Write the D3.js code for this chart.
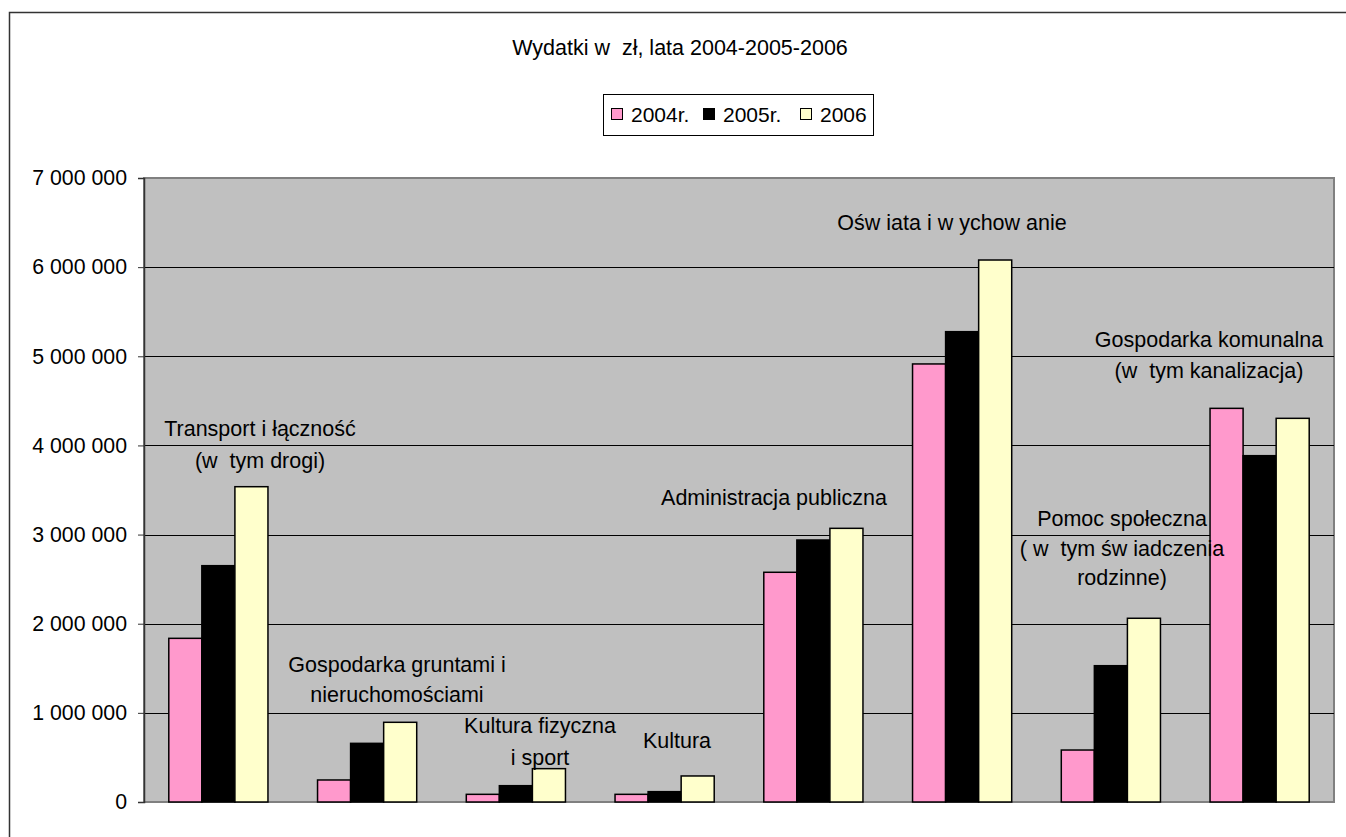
<!DOCTYPE html>
<html lang="pl">
<head>
<meta charset="utf-8">
<title>Wydatki w zł, lata 2004-2005-2006</title>
<script src="https://cdn.jsdelivr.net/npm/d3@7"></script>
<style>
  body { margin: 0; background: #fff; }
  svg { display: block; font-family: "Liberation Sans", Arial, sans-serif; }
  text { white-space: pre; }
</style>
</head>
<body>
<script>
// dane (zł)
var categories = ["Transport", "Grunty", "KulturaFiz", "Kultura", "Administracja", "Oswiata", "Pomoc", "Komunalna"];
var seriesNames = ["2004r.", "2005r.", "2006"];
var values2004 = [1836000, 247000, 86000, 86000, 2577000, 4914000, 583000, 4416000];
var values2005 = [2651000, 658000, 183000, 116000, 2939000, 5276000, 1529000, 3885000];
var values2006 = [3537000, 894000, 374000, 292000, 3070000, 6080000, 2061000, 4304000];
var yTicks = [0, 1000000, 2000000, 3000000, 4000000, 5000000, 6000000, 7000000];
var categoryLabels = [
  ["Transport i łączność", "(w  tym drogi)"],
  ["Gospodarka gruntami i", "nieruchomościami"],
  ["Kultura fizyczna", "i sport"],
  ["Kultura"],
  ["Administracja publiczna"],
  ["Ośw iata i w ychow anie"],
  ["Pomoc społeczna", "( w  tym św iadczenia", "rodzinne)"],
  ["Gospodarka komunalna", "(w  tym kanalizacja)"]
];

// położenie podpisów kategorii (środek x, linia bazowa pierwszego wiersza, odstęp)
var labelLayout = [
  {x: 260, y: 436, dy: 32},
  {x: 397, y: 672, dy: 30},
  {x: 540, y: 733, dy: 32},
  {x: 677, y: 748, dy: 30},
  {x: 774, y: 505, dy: 30},
  {x: 952, y: 230, dy: 30},
  {x: 1122, y: 526, dy: 29.5},
  {x: 1209, y: 347, dy: 31}
];

var colors = ["#FF99CC", "#000000", "#FFFFCC"];

var w = 1346, h = 837;
var plot = {left: 144, right: 1334, top: 178, bottom: 802};

var svg = d3.select("body").append("svg")
  .attr("width", w)
  .attr("height", h);

// ramka całego wykresu
svg.append("rect")
  .attr("x", 9.5).attr("y", 12.5)
  .attr("width", w + 20).attr("height", h + 20)
  .attr("fill", "#fff")
  .attr("stroke", "#333").attr("stroke-width", 1.5);

var x0 = d3.scaleBand()
  .domain(categories)
  .range([plot.left, plot.right])
  .padding(0);

var bw = x0.bandwidth() / 4.5;
var x1 = d3.scaleBand()
  .domain(seriesNames)
  .range([bw * 0.75, bw * 3.75])
  .padding(0);

var y = d3.scaleLinear()
  .domain([0, 7000000])
  .range([plot.bottom, plot.top]);

var pl = d3.formatLocale({decimal: ",", thousands: " ", grouping: [3], currency: ["", " zł"]});
var fmt = pl.format(",d");

// tło obszaru wykresu
svg.append("rect")
  .attr("x", plot.left).attr("y", plot.top)
  .attr("width", plot.right - plot.left)
  .attr("height", plot.bottom - plot.top)
  .attr("fill", "#C0C0C0")
  .attr("stroke", "#808080").attr("stroke-width", 2);

// linie siatki
svg.append("g")
  .selectAll("line")
  .data(yTicks.filter(function(d) { return d > 0 && d < 7000000; }))
  .enter().append("line")
  .attr("x1", plot.left).attr("x2", plot.right)
  .attr("y1", function(d) { return Math.round(y(d)) + 0.5; })
  .attr("y2", function(d) { return Math.round(y(d)) + 0.5; })
  .attr("stroke", "#000").attr("stroke-width", 1);

// oś Y
var yAxis = d3.axisLeft(y)
  .tickValues(yTicks)
  .tickSize(6)
  .tickPadding(11)
  .tickFormat(fmt);

var gy = svg.append("g")
  .attr("transform", "translate(" + plot.left + ",0)")
  .call(yAxis);
gy.select(".domain").attr("stroke", "#333").attr("stroke-width", 1.5);
gy.selectAll(".tick line").attr("stroke", "#333");
gy.selectAll(".tick text")
  .attr("font-size", 21.3)
  .attr("font-family", "'Liberation Sans', Arial, sans-serif")
  .attr("fill", "#000");

// słupki
var series = [values2004, values2005, values2006];
var groups = svg.append("g")
  .selectAll("g")
  .data(categories)
  .enter().append("g")
  .attr("transform", function(d) { return "translate(" + x0(d) + ",0)"; });

groups.selectAll("rect")
  .data(function(d, i) {
    return seriesNames.map(function(s, k) { return {key: s, k: k, value: series[k][i]}; });
  })
  .enter().append("rect")
  .attr("x", function(d) { return x1(d.key); })
  .attr("width", x1.bandwidth())
  .attr("y", function(d) { return y(d.value); })
  .attr("height", function(d) { return y(0) - y(d.value); })
  .attr("fill", function(d) { return colors[d.k]; })
  .attr("stroke", "#000")
  .attr("stroke-width", 1.5);

// podpisy kategorii
categoryLabels.forEach(function(lines, i) {
  var L = labelLayout[i];
  var t = svg.append("text")
    .attr("text-anchor", "middle")
    .attr("font-size", 21.5)
    .attr("fill", "#000");
  lines.forEach(function(line, j) {
    t.append("tspan")
      .attr("x", L.x)
      .attr("y", L.y + j * L.dy)
      .text(line);
  });
});

// tytuł
svg.append("text")
  .attr("x", 680).attr("y", 55)
  .attr("text-anchor", "middle")
  .attr("font-size", 21.5)
  .text("Wydatki w  zł, lata 2004-2005-2006");

// legenda
var legend = svg.append("g");
legend.append("rect")
  .attr("x", 603.5).attr("y", 94.5)
  .attr("width", 270).attr("height", 41)
  .attr("fill", "#fff")
  .attr("stroke", "#000").attr("stroke-width", 1);

var legendX = [611, 703, 800];
seriesNames.forEach(function(s, k) {
  legend.append("rect")
    .attr("x", legendX[k] + 0.5).attr("y", 108.5)
    .attr("width", 11).attr("height", 11)
    .attr("fill", colors[k])
    .attr("stroke", "#000").attr("stroke-width", 1);
  legend.append("text")
    .attr("x", legendX[k] + 20).attr("y", 122)
    .attr("font-size", 21)
    .text(s);
});
</script>
</body>
</html>
